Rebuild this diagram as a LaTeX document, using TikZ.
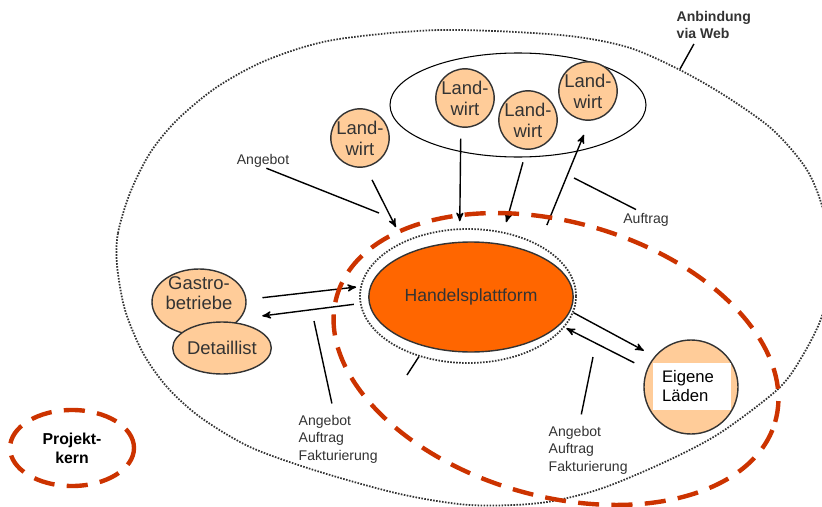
\documentclass[tikz,border=0pt]{standalone}
\usepackage{fontspec}
\setmainfont{Liberation Sans}
\usepackage{tikz}
\usetikzlibrary{arrows}
\usetikzlibrary{shapes.geometric,positioning}
\definecolor{peach}{RGB}{255,204,153}
\definecolor{platform}{RGB}{255,102,0}
\definecolor{kernred}{RGB}{204,51,0}
\definecolor{ink}{RGB}{51,51,51}
\newlength{\px}
\setlength{\px}{0.02cm}

\begin{document}
\begin{tikzpicture}[x=0.02cm,y=-0.02cm,>=stealth',thick,
    farm node/.style={circle,draw=ink,fill=peach,minimum size=58\px,inner sep=0pt,align=center,text=ink,font=\fontsize{10.5}{12}\selectfont},
    trade node/.style={ellipse,draw=ink,fill=peach,inner sep=0pt,align=center,text=ink,font=\fontsize{10.5}{11.5}\selectfont},
    dot line/.style={draw=ink,line width=1pt,dash pattern=on 0.9pt off 0.8pt},
    kern line/.style={draw=kernred,line width=2.5pt,dash pattern=on 12pt off 7pt},
    note/.style={inner sep=0pt,align=left,text=ink,font=\fontsize{8}{10}\selectfont}]

  \useasboundingbox (0,0) rectangle (822,507);

  % web area
  \draw[dot line] plot[smooth cycle] coordinates {(117,265) (118,233) (130,193) (150,153) (177,120)
    (217,87) (267,60) (333,40) (440,30) (560,35) (627,47) (680,70) (727,97) (773,130) (807,170)
    (824,213) (830,265) (822,316) (800,360) (777,390) (720,433) (667,461) (600,489) (540,503)
    (470,505) (400,494) (317,471) (250,447) (200,417) (167,387) (143,353) (125,310)};
  \coordinate (web-tip) at (680,69);

  % farmers
  \node[ellipse,draw=black,line width=0.6pt,minimum width=256\px,minimum height=104\px] (farm-group) at (518,105) {};
  \node[farm node] (lw-a) at (465,98) {Land-\\wirt};
  \node[farm node] (lw-b) at (528,120) {Land-\\wirt};
  \node[farm node] (lw-c) at (588,91) {Land-\\wirt};
  \node[farm node] (lw-d) at (360,138) {Land-\\wirt};

  % platform
  \node[ellipse,dot line,minimum width=216\px,minimum height=134\px] (ring) at (468,296) {};
  \node[ellipse,draw=ink,fill=platform,minimum width=186\px,minimum height=110\px,text=ink,font=\fontsize{10}{12}\selectfont] (platform) at (471,297) {Handelsplattform};

  % customers
  \node[trade node,minimum width=94\px,minimum height=66\px] (gastro) at (199,302) {};
  \node[note,align=center,font=\fontsize{10.5}{11.5}\selectfont] (gastro-text) at (199,293) {Gastro-\\betriebe};
  \node[trade node,minimum width=94\px,minimum height=52\px] (detail) at (222,348) {Detaillist};
  \node[circle,draw=ink,fill=peach,minimum size=94\px] (laeden) at (691,387) {};
  \node[fill=white,inner xsep=9\px,inner ysep=0pt,text width=60\px,minimum height=47\px,align=left,font=\fontsize{9.5}{10.5}\selectfont] (laeden-text) at (692,386) {Eigene\\Läden};

  % labels
  \node[note,font=\bfseries\fontsize{8}{10}\selectfont,anchor=west] (lbl-web) at (676,25) {Anbindung\\via Web};
  \node[note] (lbl-angebot) at (263,161) {Angebot};
  \node[note] (lbl-auftrag) at (646,220) {Auftrag};
  \node[note,anchor=west] (lbl-left) at (298,439) {Angebot\\Auftrag\\Fakturierung};
  \node[note,anchor=west] (lbl-right) at (548,450) {Angebot\\Auftrag\\Fakturierung};

  \coordinate (angebot-tip) at (379,213);
  \coordinate (auftrag-tip) at (574,178);
  \coordinate (left-tip) at (314,321);
  \coordinate (right-tip) at (593,357);
  \coordinate (ring-tick) at (407,375);

  \path[->]
    (lw-a.262) edge[shorten <=11\px,shorten >=7\px] (ring.97)
    (lw-b.267) edge[shorten <=13\px,shorten >=10\px] (ring.61)
    (lw-d.281) edge[shorten <=14\px,shorten >=16\px] (ring.140)
    (ring.36) edge[shorten <=21\px,shorten >=15\px] (lw-c.273)
    (gastro.3) edge[shorten <=16\px,shorten >=4\px] (ring.175)
    (ring.184) edge[shorten <=6\px,shorten >=22\px] (gastro.338)
    (ring.351) edge[shorten >=12\px] (laeden.140)
    (laeden.158) edge[shorten <=14\px,shorten >=2\px] (ring.342);

  \draw (lbl-angebot.295) -- (angebot-tip);
  \draw[shorten >=7\px] (auftrag-tip) -- (lbl-auftrag.117);
  \draw[shorten <=11\px] (lbl-left.99) -- (left-tip);
  \draw[shorten <=11\px] (lbl-right.110) -- (right-tip);
  \draw[shorten <=5\px] (lbl-web.220) -- (web-tip);
  \draw (ring.231) -- (ring-tick);

  % project core
  \node[ellipse,kern line,minimum width=456\px,minimum height=274\px,rotate=-16] (kern) at (556,359) {};
  \node[ellipse,kern line,minimum width=124\px,minimum height=76\px,align=center,font=\bfseries\fontsize{9}{10.8}\selectfont] (projekt) at (72,448) {Projekt-\\kern};
\end{tikzpicture}
\end{document}
